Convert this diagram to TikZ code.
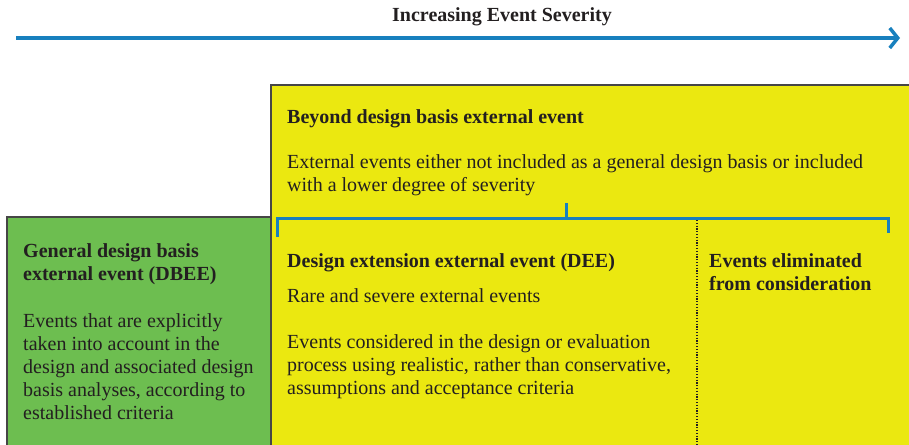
\documentclass[tikz,border=0pt]{standalone}
\usepackage{fontspec}
\setmainfont{Liberation Serif}
\usetikzlibrary{arrows.meta}

\definecolor{sevblue}{RGB}{24,128,190}
\definecolor{beyondyellow}{RGB}{235,232,16}
\definecolor{dbgreen}{RGB}{109,190,80}
\definecolor{edgegray}{RGB}{70,70,70}
\definecolor{ink}{RGB}{35,31,32}

\begin{document}
\begin{tikzpicture}[x=1pt, y=-1pt,
    box/.style = {draw=edgegray, line width=1.2pt},
    head/.style = {anchor=base west, inner sep=0pt, align=left, text=ink,
                   font=\fontsize{20}{23}\selectfont\bfseries},
    body/.style = {anchor=base west, inner sep=0pt, align=left, text=ink,
                   font=\fontsize{20}{23}\selectfont}]
    \useasboundingbox (0,0) rectangle (909,444);

    % severity axis
    \coordinate (sevL) at (16,38);
    \coordinate (sevR) at (900,38);
    \draw[-{Straight Barb[length=8pt, width=20pt]}, line width=3.5pt, sevblue] (sevL) -- (sevR);
    \node[head, anchor=base] (sevtitle) at (502,22) {Increasing Event Severity};

    % the two boxes (they run off the page on the right and bottom)
    \fill[beyondyellow] (271,85) rectangle (915,450);
    \draw[box] (271,450) |- (915,85);
    \draw[box, fill=dbgreen] (7,450) |- (271,217) -- (271,450);

    % bracket over DEE and eliminated events
    \coordinate (brL) at (277,237);
    \coordinate (brM) at (566,218);
    \coordinate (brT) at (566,203);
    \coordinate (brR) at (888,233);
    \draw[sevblue, line width=3pt] (brL) |- (brM) -| (brR);
    \draw[sevblue, line width=3pt] (brM) -- (brT);

    % split between DEE and eliminated events
    \coordinate (splitT) at (697,220);
    \coordinate (splitB) at (697,446);
    \draw[ink, line width=1.2pt, dash pattern=on 1.2pt off 1.6pt] (splitT) -- (splitB);

    % multi-line nodes sit on the baseline of their last line
    % beyond design basis
    \node[head] (bdbhead) at (287,123) {Beyond design basis external event};
    \node[body] (bdbtext) at (287,191) {External events either not included as a general design basis or included\\
                                        with a lower degree of severity};

    % design extension
    \node[head] (deehead) at (287,267) {Design extension external event (DEE)};
    \node[body] (deerare) at (287,302) {Rare and severe external events};
    \node[body] (deetext) at (287,394) {Events considered in the design or evaluation\\
                                        process using realistic, rather than conservative,\\
                                        assumptions and acceptance criteria};

    % eliminated events
    \node[head] (elimhead) at (709,290) {Events eliminated\\from consideration};

    % general design basis
    \node[head] (dbeehead) at (23,280) {General design basis\\external event (DBEE)};
    \node[body] (dbeetext) at (23,419) {Events that are explicitly\\
                                        taken into account in the\\
                                        design and associated design\\
                                        basis analyses, according to\\
                                        established criteria};
\end{tikzpicture}
\end{document}
